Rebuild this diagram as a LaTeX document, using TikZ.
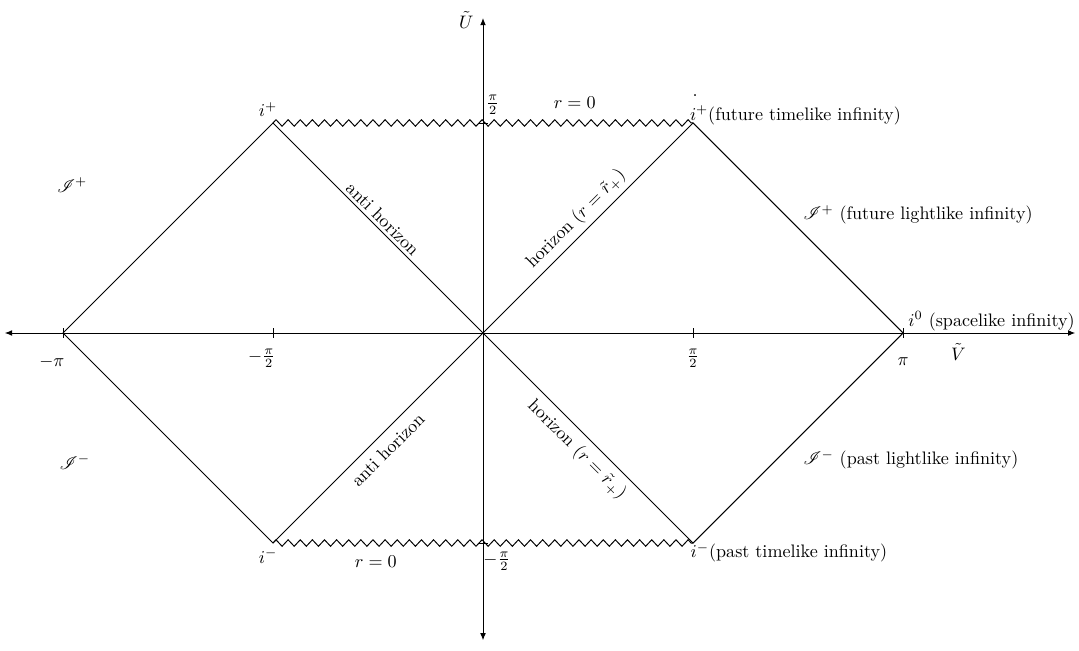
\documentclass[tikz,border=0pt]{standalone}
\usepackage{amsmath,amssymb,mathrsfs}
\usetikzlibrary{arrows.meta,decorations.pathmorphing}

\begin{document}
\begin{tikzpicture}[scale=1.36,line width=0.54pt,
  axis/.style={{Latex[length=4pt,width=3.2pt]}-{Latex[length=4pt,width=3.2pt]}},
  singular/.style={decorate,decoration={zigzag,segment length=6.7pt,amplitude=1.8pt}},
  farlbl/.style={anchor=west,inner sep=0pt}]
 \useasboundingbox (-6.9,-4.529) rectangle (8.514,4.757);
 % corners of the diagram
 \coordinate (O) at (0,0);
 \coordinate (izL) at (-6,0);
 \coordinate (iz) at (6,0);
 \coordinate (ipL) at (-3,3);
 \coordinate (ipR) at (3,3);
 \coordinate (imL) at (-3,-3);
 \coordinate (imR) at (3,-3);
 % axes
 \coordinate (xl) at (-6.83,0);
 \coordinate (xr) at (8.46,0);
 \coordinate (yb) at (0,-4.39);
 \coordinate (yt) at (0,4.5);
 \draw[axis] (xl) -- (xr);
 \draw[axis] (yb) -- (yt);
 \foreach \x in {-6,-3,3,6}
   \draw (\x,0.07) -- (\x,-0.07);
 \foreach \y in {-3,3}
   \draw (-0.07,\y) -- (0.07,\y);
 \node (Vt) at (6.79,-0.27) {$\tilde V$};
 \node (Ut) at (-0.24,4.47) {$\tilde U$};
 \node (mpi) at (-6.16,-0.41) {$-\pi$};
 \node (mhpi) at (-3.16,-0.36) {$-\frac{\pi}{2}$};
 \node (hpi) at (3,-0.36) {$\frac{\pi}{2}$};
 \node (pi) at (6,-0.41) {$\pi$};
 \node (hpiU) at (0.14,3.26) {$\frac{\pi}{2}$};
 \node (mhpiU) at (0.2,-3.26) {$-\frac{\pi}{2}$};
 % light cones and singularities
 \draw (izL) -- (ipL) -- (imR) -- (iz) -- (ipR) -- (imL) -- cycle;
 \draw[singular] (ipL) -- (ipR);
 \draw[singular] (imL) -- (imR);
 % labels
 \node (ipl) at (-3.07,3.19) {$i^+$};
 \node (iml) at (-3.07,-3.19) {$i^-$};
 \node (rzt) at (1.31,3.29) {$r=0$};
 \node (rzb) at (-1.53,-3.27) {$r=0$};
 \node (dot) at (3.03,3.39) {.};
 \node (Spl) at (-5.87,2.11) {$\mathscr{I}^+$};
 \node (Sml) at (-5.83,-1.84) {$\mathscr{I}^-$};
 \node[rotate=-45] (ahu) at (-1.43,1.63) {anti horizon};
 \node[rotate=45] (hu) at (1.33,1.63) {horizon $(r=\tilde r_+)$};
 \node[rotate=45] (ahd) at (-1.36,-1.67) {anti horizon};
 \node[rotate=-45] (hd) at (1.34,-1.67) {horizon $(r=\tilde r_+)$};
 \node[farlbl] (ftl) at (2.95,3.11) {$i^+$(future timelike infinity)};
 \node[farlbl] (fll) at (4.57,1.69) {$\mathscr{I}^+$ (future lightlike infinity)};
 \node[farlbl] (spl) at (6.07,0.17) {$i^0$ (spacelike infinity)};
 \node[farlbl] (pll) at (4.57,-1.81) {$\mathscr{I}^-$ (past lightlike infinity)};
 \node[farlbl] (ptl) at (2.96,-3.14) {$i^-$(past timelike infinity)};
\end{tikzpicture}
\end{document}
